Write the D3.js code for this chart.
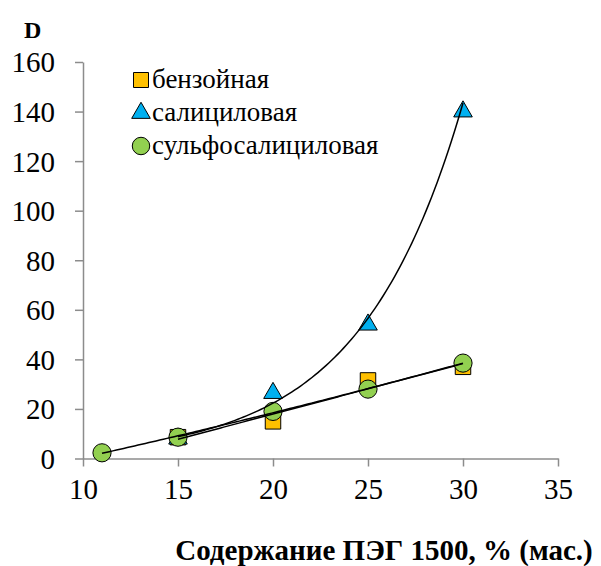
<!DOCTYPE html>
<html><head><meta charset="utf-8">
<script src="https://cdn.jsdelivr.net/npm/d3@7"></script>
<style>body{margin:0;background:#fff}svg{display:block}</style>
</head><body>
<svg id="c" width="601" height="566"></svg>
<script>
const xVals = [15, 20, 25, 30];
const benzoic = [8.6, 15, 31.5, 37];
const salicylic = [8, 26.4, 54, 140];
const sulfoX = [11, 15, 20, 25, 30];
const sulfo = [2.3, 8.6, 19, 28, 38.5];
const xTicks = [10, 15, 20, 25, 30, 35];
const yTicks = [0, 20, 40, 60, 80, 100, 120, 140, 160];
const seriesNames = ["бензойная", "салициловая", "сульфосалициловая"];
const colors = ["#FFC000", "#00B0F0", "#92D050"];

const svg = d3.select("#c");
const x = d3.scaleLinear().domain([10, 35]).range([83, 558]);
const y = d3.scaleLinear().domain([0, 160]).range([458.5, 62]);
const axisColor = "#8c8c8c";
const font = "Liberation Serif";

// axes
const gx = svg.append("g").attr("transform", "translate(0,458.5)")
  .call(d3.axisBottom(x).tickValues(xTicks).tickSize(8).tickSizeOuter(0).tickPadding(12));
const gy = svg.append("g").attr("transform", "translate(83,0)")
  .call(d3.axisLeft(y).tickValues(yTicks).tickSize(8).tickSizeOuter(0).tickPadding(20));
[gx, gy].forEach(g => {
  g.attr("font-family", font).attr("font-size", 29);
  g.select(".domain").attr("stroke", axisColor).attr("stroke-width", 1.5);
  g.selectAll(".tick line").attr("stroke", axisColor).attr("stroke-width", 1.5);
  g.selectAll("text").attr("fill", "#000").style("font-family", font).style("font-size", "29px");
});
gx.selectAll("text").attr("dy", "0.71em");
gy.selectAll("text").attr("dy", "0.34em");

// markers
const line = d3.line().x(d => x(d[0])).y(d => y(d[1]));
const sym = (type, size) => d3.symbol().type(type).size(size)();
function markers(xs, ys, type, size, color) {
  svg.append("g").selectAll("path").data(xs.map((v, i) => [v, ys[i]])).join("path")
    .attr("d", sym(type, size))
    .attr("transform", d => `translate(${x(d[0])},${y(d[1])})`)
    .attr("fill", color).attr("stroke", "#000").attr("stroke-width", 1);
}
markers(xVals, benzoic, d3.symbolSquare, 240, colors[0]);
markers(xVals, salicylic, d3.symbolTriangle, 150, colors[1]);
markers(sulfoX, sulfo, d3.symbolCircle, 260, colors[2]);

// trendlines computed from data
function linFit(xs, ys) {
  const mx = d3.mean(xs), my = d3.mean(ys);
  let sxy = 0, sxx = 0;
  xs.forEach((v, i) => { sxy += (v - mx) * (ys[i] - my); sxx += (v - mx) ** 2; });
  const b = sxy / sxx; return [my - b * mx, b];
}
function quadFit(xs, ys) {
  const S = k => d3.sum(xs, v => v ** k);
  const T = k => d3.sum(xs, (v, i) => v ** k * ys[i]);
  const A = [[S(0), S(1), S(2)], [S(1), S(2), S(3)], [S(2), S(3), S(4)]];
  const B = [T(0), T(1), T(2)];
  for (let i = 0; i < 3; i++) {
    for (let j = i + 1; j < 3; j++) {
      const f = A[j][i] / A[i][i];
      for (let k = i; k < 3; k++) A[j][k] -= f * A[i][k];
      B[j] -= f * B[i];
    }
  }
  const r = [0, 0, 0];
  for (let i = 2; i >= 0; i--) {
    let s = B[i];
    for (let k = i + 1; k < 3; k++) s -= A[i][k] * r[k];
    r[i] = s / A[i][i];
  }
  return r;
}
const samples = (a, b) => d3.range(0, 101).map(i => a + (b - a) * i / 100);

const [la, lb] = linFit(xVals, benzoic);
const [ea, eb] = linFit(xVals, salicylic.map(Math.log));
const q = quadFit(sulfoX, sulfo);
const trendG = svg.append("g").attr("fill", "none").attr("stroke", "#000").attr("stroke-width", 1.5);
trendG.append("path").attr("d", line(samples(15, 30).map(t => [t, la + lb * t])));
trendG.append("path").attr("d", line(samples(15, 30).map(t => [t, Math.exp(ea + eb * t)])));
trendG.append("path").attr("d", line(samples(11, 30).map(t => [t, q[0] + q[1] * t + q[2] * t * t])));

// legend
const lg = svg.append("g");
const types = [d3.symbolSquare, d3.symbolTriangle, d3.symbolCircle];
const sizes = [225, 150, 240];
seriesNames.forEach((n, i) => {
  const cy = 80 + i * 33;
  lg.append("path").attr("d", sym(types[i], sizes[i]))
    .attr("transform", `translate(141,${cy})`)
    .attr("fill", colors[i]).attr("stroke", "#000").attr("stroke-width", 1);
  lg.append("text").attr("x", 152).attr("y", cy + 8).text(n)
    .attr("font-family", font).attr("font-size", 27)
    .style("font-family", font).style("font-size", "27px");
});

// axis titles
svg.append("text").attr("x", 24).attr("y", 38).text("D")
  .attr("font-family", font).style("font-family", font).style("font-size", "24px").style("font-weight", "bold");
svg.append("text").attr("x", 384).attr("y", 560).attr("text-anchor", "middle")
  .text("Содержание ПЭГ 1500, % (мас.)")
  .attr("font-family", font).style("font-family", font).style("font-size", "29px").style("font-weight", "bold");
</script>
</body></html>
